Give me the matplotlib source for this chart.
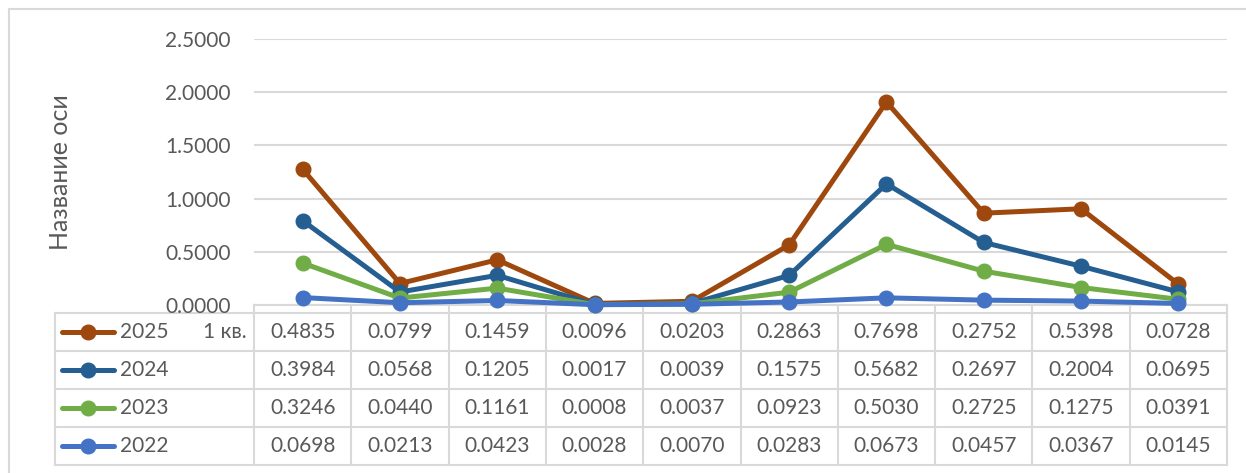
import matplotlib
matplotlib.use("Agg")
import matplotlib.pyplot as plt
from matplotlib.lines import Line2D
import numpy as np

plt.rcParams['font.family'] = ['Lato', 'DejaVu Sans']

series_names = ["2025", "2024", "2023", "2022"]
v2025 = [0.4835, 0.0799, 0.1459, 0.0096, 0.0203, 0.2863, 0.7698, 0.2752, 0.5398, 0.0728]
v2024 = [0.3984, 0.0568, 0.1205, 0.0017, 0.0039, 0.1575, 0.5682, 0.2697, 0.2004, 0.0695]
v2023 = [0.3246, 0.0440, 0.1161, 0.0008, 0.0037, 0.0923, 0.5030, 0.2725, 0.1275, 0.0391]
v2022 = [0.0698, 0.0213, 0.0423, 0.0028, 0.0070, 0.0283, 0.0673, 0.0457, 0.0367, 0.0145]
colors = ["#9E480E", "#255E91", "#70AD47", "#4472C4"]
row_extra = ["1 кв.", "", "", ""]
yticks = [0.0, 0.5, 1.0, 1.5, 2.0, 2.5]
ylabel = "Название оси"

W, H = 1246, 473
fig = plt.figure(figsize=(W / 100, H / 100), dpi=100)
txt_color = "#595959"
fs = 15

def fx(px):
    return px / W

def fy(py):
    return 1 - py / H

ax_l, ax_r, ax_b, ax_t = 254, 1227, 305, 39
ax = fig.add_axes([fx(ax_l), fy(ax_b), fx(ax_r - ax_l), (ax_b - ax_t) / H])

data = [v2022, v2023, v2024, v2025]  # stacking order (bottom to top)
stacked = np.cumsum(np.array(data), axis=0)
n = len(v2025)
x = np.arange(n)
order = [3, 2, 1, 0]
color_by_stack = {0: colors[3], 1: colors[2], 2: colors[1], 3: colors[0]}
lw = 3.6
ms = 10.5
for i in order:
    ax.plot(x, stacked[i], color=color_by_stack[i], lw=lw, marker='o',
            markersize=ms, solid_capstyle='round', solid_joinstyle='round',
            zorder=3 + (3 - i), clip_on=False)

ax.set_xlim(-0.5, n - 0.5)
ax.set_ylim(0, 2.5)
ax.set_yticks(yticks)
ax.set_yticklabels([f"{t:.4f}" for t in yticks], color=txt_color, fontsize=fs)
ax.tick_params(axis='y', length=0, pad=17)
ax.set_xticks([])
ax.grid(axis='y', color="#D9D9D9", lw=1.5)
ax.set_axisbelow(True)
for s in ax.spines.values():
    s.set_visible(False)
ax.patch.set_alpha(0)

# overlay for table and frame
ov = fig.add_axes([0, 0, 1, 1], zorder=-1)
ov.set_xlim(0, W)
ov.set_ylim(H, 0)
ov.axis('off')
ov.patch.set_alpha(0)

gc = "#D9D9D9"
ov.plot([9, 9], [9, H], color=gc, lw=1.5)
ov.plot([9, W], [9, 9], color=gc, lw=1.5)

tab_l = 55
col_w = (ax_r - ax_l) / n
rows_y = [313, 351, 389, 427, 465]
ov.plot([ax_l, ax_r], [ax_b, ax_b], color=gc, lw=1.5)
for k in range(n + 1):
    xx = ax_l + k * col_w
    ov.plot([xx, xx], [ax_b, rows_y[-1]], color=gc, lw=1.5)
ov.plot([tab_l, tab_l], [rows_y[0], rows_y[-1]], color=gc, lw=1.5)
for yy in rows_y:
    ov.plot([tab_l, ax_r], [yy, yy], color=gc, lw=1.5)

table_vals = [v2025, v2024, v2023, v2022]
for r in range(4):
    yc = (rows_y[r] + rows_y[r + 1]) / 2
    ov.add_line(Line2D([62, 114], [yc, yc], color=colors[r], lw=lw,
                       solid_capstyle='round'))
    ov.plot([88], [yc], marker='o', color=colors[r], markersize=ms)
    ov.text(120, yc, series_names[r], ha='left', va='center',
            color=txt_color, fontsize=fs)
    if row_extra[r]:
        ov.text(247, yc, row_extra[r], ha='right', va='center',
                color=txt_color, fontsize=fs)
    for c in range(n):
        ov.text(ax_l + (c + 0.5) * col_w, yc, f"{table_vals[r][c]:.4f}",
                ha='center', va='center', color=txt_color, fontsize=fs)

ov.text(61, 172, ylabel, rotation=90, ha='center', va='center',
        color=txt_color, fontsize=18)

fig.savefig("out.png", dpi=100)
